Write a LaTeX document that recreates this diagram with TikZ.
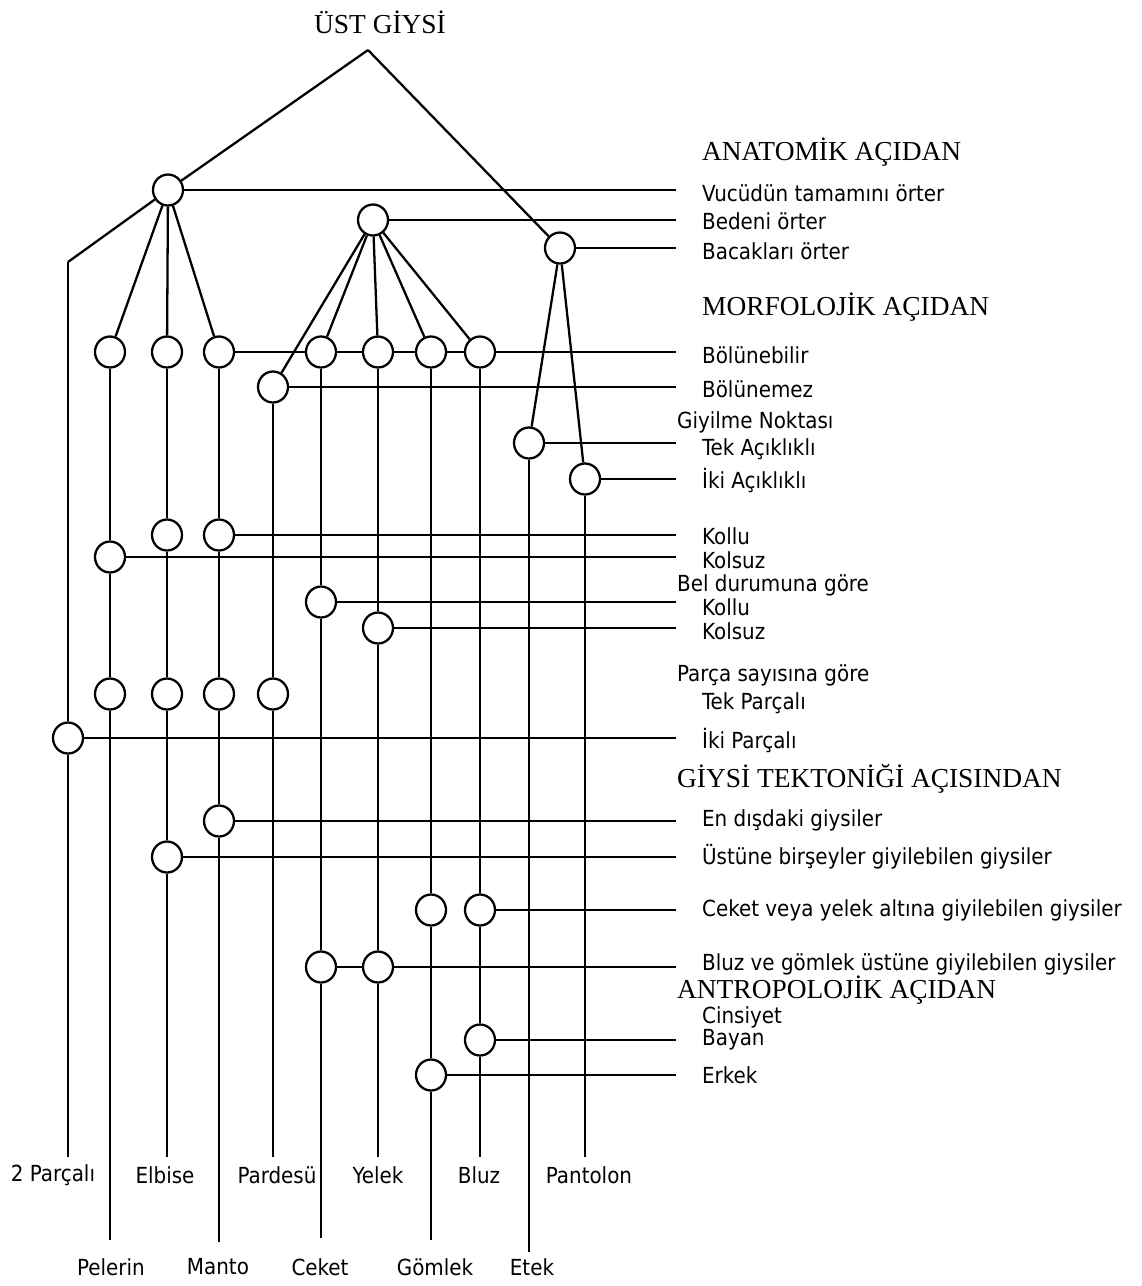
\documentclass[tikz,border=0pt]{standalone}
\usepackage{fontspec}
\setmainfont{DejaVu Sans Condensed}
\newfontfamily\headfont{Liberation Serif}
\usetikzlibrary{shapes.geometric}

\begin{document}
\begin{tikzpicture}[x=0.02cm, y=-0.02cm, line width=1.3pt, font=\fontsize{12.6}{14}\selectfont]
\tikzstyle{ring}=[draw, ellipse, minimum width=0.6cm, minimum height=0.62cm, inner sep=0pt, fill=white]
\tikzstyle{lbl}=[anchor=west, inner sep=0pt]
\tikzstyle{head}=[anchor=west, inner sep=0pt, font=\headfont\fontsize{15.6}{17}\selectfont]
\tikzstyle{item}=[inner sep=0pt]
\useasboundingbox (0,0) rectangle (1142,1286);

\node[head, anchor=center] (top) at (380,22) {ÜST GİYSİ};
\coordinate (apex) at (368,50);
\coordinate (k) at (68,262);

\node[ring] (a) at (168,190) {};
\node[ring] (b) at (373,220) {};
\node[ring] (c) at (560,248) {};

\node[ring] (pe1) at (110,352) {};
\node[ring] (el1) at (167,352) {};
\node[ring] (ma1) at (219,352) {};
\node[ring] (ce1) at (321,352) {};
\node[ring] (ye1) at (378,352) {};
\node[ring] (go1) at (431,352) {};
\node[ring] (bl1) at (480,352) {};
\node[ring] (pa1) at (273,387) {};
\node[ring] (et1) at (529,443) {};
\node[ring] (pn1) at (585,479) {};
\node[ring] (el2) at (167,535) {};
\node[ring] (ma2) at (219,535) {};
\node[ring] (pe2) at (110,557) {};
\node[ring] (ce2) at (321,602) {};
\node[ring] (ye2) at (378,628) {};
\node[ring] (pe3) at (110,694) {};
\node[ring] (el3) at (167,694) {};
\node[ring] (ma3) at (219,694) {};
\node[ring] (pa2) at (273,694) {};
\node[ring] (ik1) at (68,738) {};
\node[ring] (ma4) at (219,821) {};
\node[ring] (el4) at (167,857) {};
\node[ring] (go2) at (431,910) {};
\node[ring] (bl2) at (480,910) {};
\node[ring] (ce3) at (321,967) {};
\node[ring] (ye3) at (378,967) {};
\node[ring] (bl3) at (480,1040) {};
\node[ring] (go3) at (431,1075) {};

\coordinate (e2p) at (68,1157);
\coordinate (epe) at (110,1240);
\coordinate (eel) at (167,1157);
\coordinate (ema) at (219,1242);
\coordinate (epa) at (273,1157);
\coordinate (ece) at (321,1238);
\coordinate (eye) at (378,1157);
\coordinate (ego) at (431,1240);
\coordinate (ebl) at (480,1157);
\coordinate (eet) at (529,1252);
\coordinate (epn) at (585,1157);

\node[item] (l2p) at (53,1175) {2 Parçalı};
\node[item] (lel) at (165,1175) {Elbise};
\node[item] (lpa) at (277,1175) {Pardesü};
\node[item] (lye) at (378,1175) {Yelek};
\node[item] (lbl) at (479,1175) {Bluz};
\node[item] (lpn) at (589,1175) {Pantolon};
\node[item] (lpe) at (111,1267) {Pelerin};
\node[item] (lma) at (218,1267) {Manto};
\node[item] (lce) at (320,1267) {Ceket};
\node[item] (lgo) at (435,1267) {Gömlek};
\node[item] (let) at (532,1267) {Etek};

\node[head] (h1) at (701,152) {ANATOMİK AÇIDAN};
\node[lbl] (t1) at (701,193) {Vucüdün tamamını örter};
\node[lbl] (t2) at (701,221) {Bedeni örter};
\node[lbl] (t3) at (701,251) {Bacakları örter};
\node[head] (h2) at (701,307) {MORFOLOJİK AÇIDAN};
\node[lbl] (t4) at (701,355) {Bölünebilir};
\node[lbl] (t5) at (701,389) {Bölünemez};
\node[lbl] (g1) at (676,422) {Giyilme Noktası};
\node[lbl] (t6) at (701,449) {Tek Açıklıklı};
\node[lbl] (t7) at (701,481) {İki Açıklıklı};
\node[lbl] (t8) at (701,536) {Kollu};
\node[lbl] (t9) at (701,560) {Kolsuz};
\node[lbl] (g2) at (676,585) {Bel durumuna göre};
\node[lbl] (t10) at (701,607) {Kollu};
\node[lbl] (t11) at (701,631) {Kolsuz};
\node[lbl] (g3) at (676,675) {Parça sayısına göre};
\node[lbl] (t12) at (701,703) {Tek Parçalı};
\node[lbl] (t13) at (701,741) {İki Parçalı};
\node[head] (h3) at (676,779) {GİYSİ TEKTONİĞİ AÇISINDAN};
\node[lbl] (t14) at (701,820) {En dışdaki giysiler};
\node[lbl] (t15) at (701,857) {Üstüne birşeyler giyilebilen giysiler};
\node[lbl] (t16) at (701,910) {Ceket veya yelek altına giyilebilen giysiler};
\node[lbl] (t17) at (701,964) {Bluz ve gömlek üstüne giyilebilen giysiler};
\node[head] (h4) at (676,990) {ANTROPOLOJİK AÇIDAN};
\node[lbl] (g4) at (701,1017) {Cinsiyet};
\node[lbl] (t18) at (701,1040) {Bayan};
\node[lbl] (t19) at (701,1075) {Erkek};

\coordinate (r1) at (676,190);
\coordinate (r2) at (676,220);
\coordinate (r3) at (676,248);
\coordinate (r4) at (676,352);
\coordinate (r5) at (676,387);
\coordinate (r6) at (676,443);
\coordinate (r7) at (676,479);
\coordinate (r8) at (676,535);
\coordinate (r9) at (676,557);
\coordinate (r10) at (676,602);
\coordinate (r11) at (676,628);
\coordinate (r12) at (676,738);
\coordinate (r13) at (676,821);
\coordinate (r14) at (676,857);
\coordinate (r15) at (676,910);
\coordinate (r16) at (676,967);
\coordinate (r17) at (676,1040);
\coordinate (r18) at (676,1075);

\path (apex) edge (a) (apex) edge (c);
\path (a) edge (k) (a) edge (pe1) (a) edge (el1) (a) edge (ma1);
\path (b) edge (pa1) (b) edge (ce1) (b) edge (ye1) (b) edge (go1) (b) edge (bl1);
\path (c) edge (et1) (c) edge (pn1);

\path (k) edge (ik1) (ik1) edge (e2p);
\path (pe1) edge (pe2) (pe2) edge (pe3) (pe3) edge (epe);
\path (el1) edge (el2) (el2) edge (el3) (el3) edge (el4) (el4) edge (eel);
\path (ma1) edge (ma2) (ma2) edge (ma3) (ma3) edge (ma4) (ma4) edge (ema);
\path (pa1) edge (pa2) (pa2) edge (epa);
\path (ce1) edge (ce2) (ce2) edge (ce3) (ce3) edge (ece);
\path (ye1) edge (ye2) (ye2) edge (ye3) (ye3) edge (eye);
\path (go1) edge (go2) (go2) edge (go3) (go3) edge (ego);
\path (bl1) edge (bl2) (bl2) edge (bl3) (bl3) edge (ebl);
\path (et1) edge (eet);
\path (pn1) edge (epn);

\path (a) edge (r1);
\path (b) edge (r2);
\path (c) edge (r3);
\path (ma1) edge (ce1) (ce1) edge (ye1) (ye1) edge (go1) (go1) edge (bl1) (bl1) edge (r4);
\path (pa1) edge (r5);
\path (et1) edge (r6);
\path (pn1) edge (r7);
\path (ma2) edge (r8);
\path (pe2) edge (r9);
\path (ce2) edge (r10);
\path (ye2) edge (r11);
\path (ik1) edge (r12);
\path (ma4) edge (r13);
\path (el4) edge (r14);
\path (bl2) edge (r15);
\path (ce3) edge (ye3) (ye3) edge (r16);
\path (bl3) edge (r17);
\path (go3) edge (r18);
\end{tikzpicture}
\end{document}
